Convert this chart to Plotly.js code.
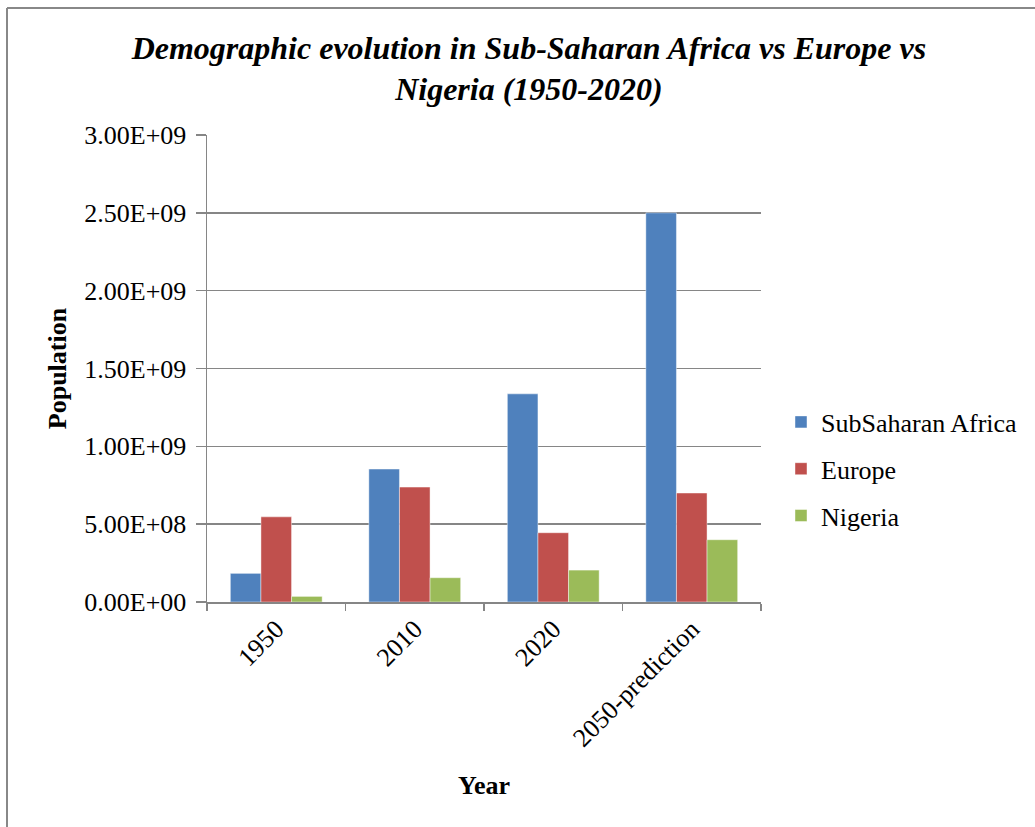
<!DOCTYPE html>
<html>
<head>
<meta charset="utf-8">
<script src="https://cdn.plot.ly/plotly-3.0.1.min.js"></script>
<style>html,body{margin:0;padding:0;background:#fff;}#chart{width:1035px;height:827px;}</style>
</head>
<body>
<div id="chart"></div>
<script>
const categories = ["1950", "2010", "2020", "2050-prediction"];
const subSaharanAfrica = [1.84e8, 8.54e8, 1.337e9, 2.5e9];
const europe = [5.47e8, 7.38e8, 4.45e8, 7.0e8];
const nigeria = [3.6e7, 1.56e8, 2.05e8, 4.0e8];
const yTickVals = [0, 5e8, 1e9, 1.5e9, 2e9, 2.5e9, 3e9];
const yTickText = ["0.00E+00", "5.00E+08", "1.00E+09", "1.50E+09", "2.00E+09", "2.50E+09", "3.00E+09"];

const serif = "Liberation Serif, Times New Roman, serif";
const grid = "#868686";

const traces = [
  {name: "SubSaharan Africa", y: subSaharanAfrica, color: "#4F81BD"},
  {name: "Europe", y: europe, color: "#C0504D"},
  {name: "Nigeria", y: nigeria, color: "#9BBB59"}
].map((s, i) => ({
  type: "bar",
  x: categories,
  y: s.y,
  name: s.name,
  legendgroup: "g" + i,
  marker: {color: s.color, line: {color: "rgba(255,255,255,0.55)", width: 0.8}}
}));

const X = px => (px - 207) / 554;
const Y = py => (602 - py) / 467;

const layout = {
  width: 1035,
  height: 827,
  margin: {l: 207, r: 274, t: 135, b: 225, autoexpand: false},
  paper_bgcolor: "#ffffff",
  plot_bgcolor: "#ffffff",
  barmode: "group",
  bargap: 0.337,
  bargroupgap: 0,
  font: {family: serif, size: 26, color: "#000"},
  title: {
    text: "<b><i>Demographic evolution in Sub-Saharan Africa vs Europe vs<br>Nigeria (1950-2020)</i></b>",
    font: {family: serif, size: 32, color: "#000"},
    x: 0.511, xanchor: "center",
    y: 0.929, yanchor: "top"
  },
  xaxis: {
    type: "category",
    tickangle: -45,
    showgrid: false,
    showline: true, linecolor: grid, linewidth: 1.5,
    ticks: "outside", tickcolor: grid, ticklen: 7, tickwidth: 1.5,
    tickson: "boundaries",
    tickfont: {family: serif, size: 26, color: "#000"},
    title: {text: "<b>Year</b>", font: {family: serif, size: 26, color: "#000"}, standoff: 24}
  },
  yaxis: {
    range: [0, 3e9],
    tickvals: yTickVals,
    ticktext: yTickText,
    showgrid: true, gridcolor: grid, gridwidth: 1.5,
    showline: true, linecolor: grid, linewidth: 1.5,
    ticks: "outside", tickcolor: grid, ticklen: 10, tickwidth: 1.5,
    ticklabelstandoff: 4,
    zeroline: false,
    tickfont: {family: serif, size: 26, color: "#000"},
    title: {text: "<b>Population</b>", font: {family: serif, size: 26, color: "#000"}, standoff: 10}
  },
  legend: {
    x: X(781), xanchor: "left",
    y: Y(469), yanchor: "middle",
    font: {family: serif, size: 26, color: "#000"},
    tracegroupgap: 10,
    itemwidth: 30,
    bgcolor: "rgba(0,0,0,0)"
  },
  shapes: [
    {type: "line", xref: "paper", yref: "paper", x0: X(7), x1: X(1040), y0: Y(8), y1: Y(8), line: {color: "#888888", width: 2}},
    {type: "line", xref: "paper", yref: "paper", x0: X(7), x1: X(7), y0: Y(8), y1: Y(830), line: {color: "#888888", width: 2}}
  ]
};

Plotly.newPlot("chart", traces, layout, {displayModeBar: false, staticPlot: true});
</script>
</body>
</html>
